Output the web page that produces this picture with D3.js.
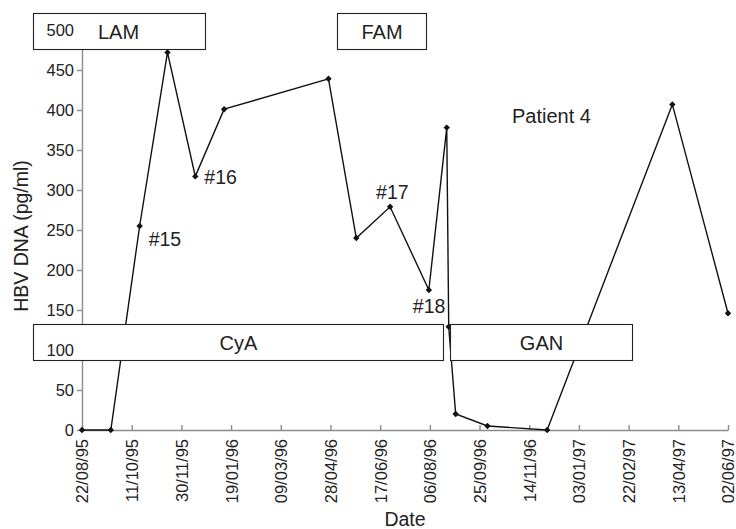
<!DOCTYPE html>
<html>
<head>
<meta charset="utf-8">
<script src="https://cdn.jsdelivr.net/npm/d3@7"></script>
<style>
  html, body { margin: 0; padding: 0; background: #fff; }
  svg { display: block; font-family: "Liberation Sans", Arial, Helvetica, sans-serif; }
</style>
</head>
<body>
<svg id="chart" width="736" height="529"></svg>
<script>
// HBV DNA measurements for patient 4
const sampleDates = ["22/08/95", "20/09/95", "19/10/95", "16/11/95", "14/12/95", "12/01/96",
                     "26/04/96", "24/05/96", "27/06/96", "05/08/96", "23/08/96", "25/08/96",
                     "01/09/96", "03/10/96", "02/12/96", "07/04/97", "02/06/97"];
const hbvDna = [0, 0, 255, 472, 317, 401, 439, 240, 279, 175, 378, 129, 20, 5, 0, 407, 146];

// axis ticks
const dateTicks = ["22/08/95", "11/10/95", "30/11/95", "19/01/96", "09/03/96", "28/04/96",
                   "17/06/96", "06/08/96", "25/09/96", "14/11/96", "03/01/97", "22/02/97",
                   "13/04/97", "02/06/97"];
const valueTicks = [0, 50, 100, 150, 200, 250, 300, 350, 400, 450, 500];

// treatment periods and sample annotations
const treatments = ["LAM", "FAM", "CyA", "GAN"];
const sampleIds = ["#15", "#16", "#17", "#18"];
const sampleIdPoints = [2, 4, 8, 9];

const parse = d3.utcParse("%d/%m/%y");
const fmt = d3.utcFormat("%d/%m/%y");
const data = sampleDates.map((d, i) => ({ date: parse(d), value: hbvDna[i] }));
const tickDates = dateTicks.map(parse);

const svg = d3.select("#chart");
const plotLeft = 82, plotRight = 728, plotTop = 30, plotBottom = 430;

const x = d3.scaleUtc().domain([tickDates[0], tickDates[tickDates.length - 1]]).range([plotLeft, plotRight]);
const y = d3.scaleLinear().domain([0, 500]).range([plotBottom, plotTop]);

const axisColor = "#8c8c8c";
const textColor = "#222";

// y axis line and ticks
const yAxisG = svg.append("g").attr("transform", `translate(${plotLeft},0)`)
  .call(d3.axisLeft(y).tickValues(valueTicks).tickSizeInner(5).tickSizeOuter(0).tickFormat(""));
yAxisG.selectAll("path, line").attr("stroke", axisColor).attr("stroke-width", 1.4);

// x axis with ticks pointing into the plot and vertical labels
const xAxisG = svg.append("g").attr("transform", `translate(0,${plotBottom})`)
  .call(d3.axisBottom(x).tickValues(tickDates).tickSizeInner(-5).tickSizeOuter(0).tickFormat(fmt));
xAxisG.selectAll("path, line").attr("stroke", axisColor).attr("stroke-width", 1.4);
xAxisG.selectAll("text")
  .attr("transform", "rotate(-90)")
  .attr("text-anchor", "end")
  .attr("x", -9).attr("y", 0).attr("dy", "0.36em")
  .attr("fill", textColor)
  .style("font-size", "16.5px")
  .style("font-family", "'Liberation Sans', Arial, sans-serif");

// data line and markers
const line = d3.line().x(d => x(d.date)).y(d => y(d.value));
svg.append("path").datum(data)
  .attr("d", line)
  .attr("fill", "none")
  .attr("stroke", "#111")
  .attr("stroke-width", 1.4);

svg.append("g").selectAll("path").data(data).join("path")
  .attr("transform", d => `translate(${x(d.date)},${y(d.value)})`)
  .attr("d", "M0,-3.2L3.2,0L0,3.2L-3.2,0Z")
  .attr("fill", "#111");

// treatment boxes
const boxLayout = [
  { x0: 33.5, x1: 205.5, y0: 13.5, y1: 49.5 },
  { x0: 337.5, x1: 426.5, y0: 13.5, y1: 49.5 },
  { x0: 33.5, x1: 443.5, y0: 324.5, y1: 360.5 },
  { x0: 450.5, x1: 632.5, y0: 324.5, y1: 360.5 }
];
const boxes = svg.append("g").selectAll("g").data(treatments).join("g");
boxes.append("rect")
  .attr("x", (d, i) => boxLayout[i].x0)
  .attr("y", (d, i) => boxLayout[i].y0)
  .attr("width", (d, i) => boxLayout[i].x1 - boxLayout[i].x0)
  .attr("height", (d, i) => boxLayout[i].y1 - boxLayout[i].y0)
  .attr("fill", "#fff")
  .attr("stroke", "#222")
  .attr("stroke-width", 1.1);
boxes.append("text")
  .attr("x", (d, i) => (boxLayout[i].x0 + boxLayout[i].x1) / 2 - (i === 0 ? 1 : 0))
  .attr("y", (d, i) => (boxLayout[i].y0 + boxLayout[i].y1) / 2)
  .attr("dy", "0.36em")
  .attr("text-anchor", "middle")
  .attr("fill", textColor)
  .style("font-size", "20px")
  .text(d => d);

// y tick labels drawn above the boxes
const yLabelG = svg.append("g").attr("transform", `translate(${plotLeft},0)`)
  .call(d3.axisLeft(y).tickValues(valueTicks).tickSize(0).tickPadding(8));
yLabelG.select(".domain").remove();
yLabelG.selectAll("text")
  .attr("fill", textColor)
  .style("font-size", "16.5px")
  .style("font-family", "'Liberation Sans', Arial, sans-serif");

// sample annotations
const idOffsets = [[9, 20], [9, 7.5], [-14, -7.5], [-16, 22.5]];
svg.append("g").selectAll("text").data(sampleIds).join("text")
  .attr("x", (d, i) => x(data[sampleIdPoints[i]].date) + idOffsets[i][0])
  .attr("y", (d, i) => y(data[sampleIdPoints[i]].value) + idOffsets[i][1])
  .attr("fill", textColor)
  .style("font-size", "19.5px")
  .text(d => d);

svg.append("text")
  .attr("x", 512).attr("y", 123)
  .attr("fill", textColor)
  .style("font-size", "20px")
  .text("Patient 4");

// axis titles
svg.append("text")
  .attr("transform", "translate(28,236) rotate(-90)")
  .attr("text-anchor", "middle")
  .attr("fill", textColor)
  .style("font-size", "19.5px")
  .text("HBV DNA (pg/ml)");

svg.append("text")
  .attr("x", (plotLeft + plotRight) / 2).attr("y", 526)
  .attr("text-anchor", "middle")
  .attr("fill", textColor)
  .style("font-size", "19.5px")
  .text("Date");
</script>
</body>
</html>
